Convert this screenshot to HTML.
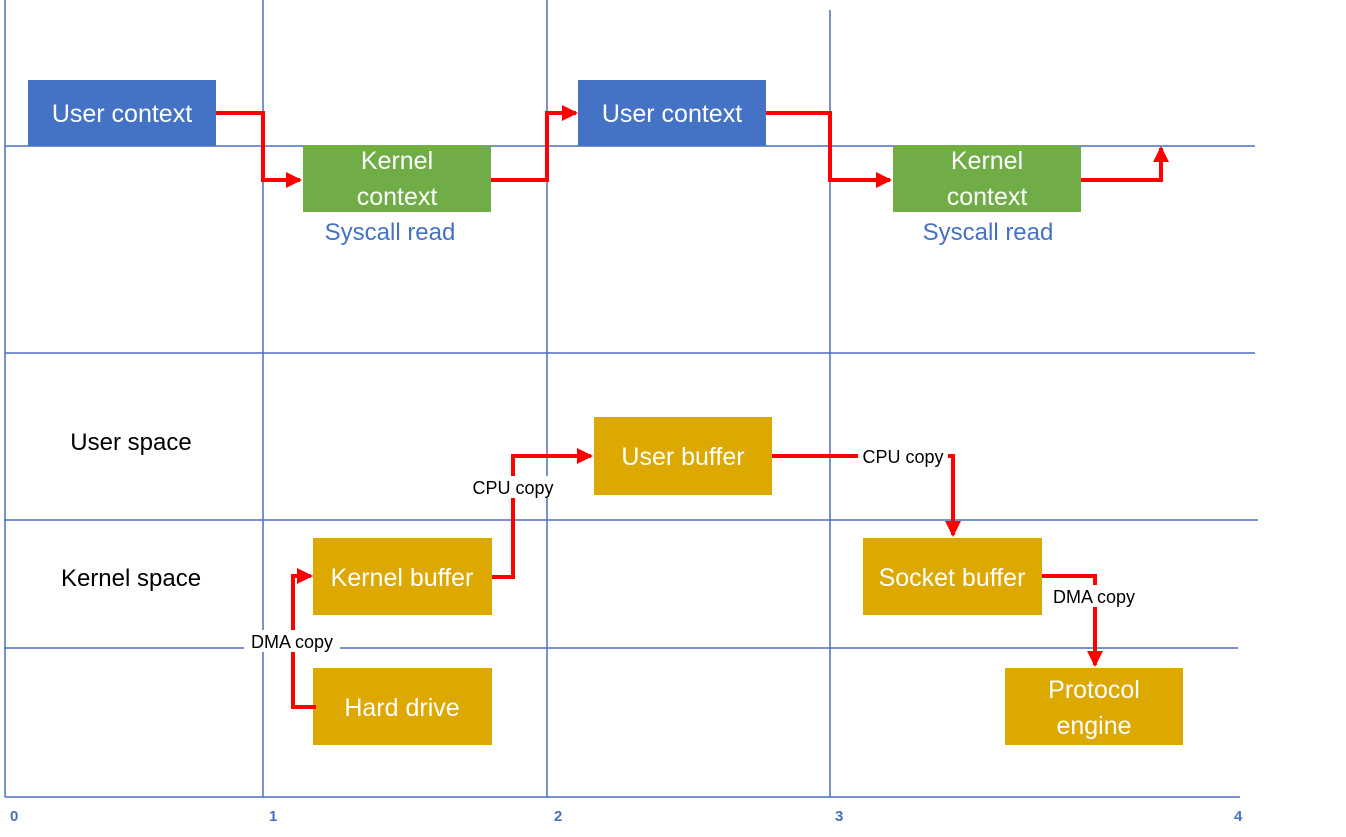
<!DOCTYPE html>
<html><head><meta charset="utf-8"><style>
html,body{margin:0;padding:0;background:#fff;width:1346px;height:837px;overflow:hidden}
svg{display:block}
text{font-family:"Liberation Sans",sans-serif}
</style></head><body>
<svg width="1346" height="837" viewBox="0 0 1346 837" xmlns="http://www.w3.org/2000/svg">
<defs>
<marker id="ah" markerWidth="4" markerHeight="4" refX="3.5" refY="2" orient="auto" markerUnits="strokeWidth">
<path d="M0,0 L4,2 L0,4 z" fill="#f00"/></marker>
</defs>
<g stroke="#4a6fbf" stroke-width="1.5" fill="none">
<line x1="5" y1="0" x2="5" y2="797"/>
<line x1="263" y1="0" x2="263" y2="797"/>
<line x1="547" y1="0" x2="547" y2="797"/>
<line x1="830" y1="10" x2="830" y2="797"/>
<line x1="5" y1="146" x2="1255" y2="146"/>
<line x1="5" y1="353" x2="1255" y2="353"/>
<line x1="5" y1="520" x2="1258" y2="520"/>
<line x1="5" y1="648" x2="1238" y2="648"/>
<line x1="5" y1="797" x2="1240" y2="797"/>
</g>
<g fill="#4a6fbf" font-size="15" font-weight="bold">
<text x="10" y="821">0</text><text x="269" y="821">1</text><text x="554" y="821">2</text><text x="835" y="821">3</text><text x="1234" y="821">4</text>
</g>
<g fill="#4472C4"><rect x="28" y="80" width="188" height="66"/><rect x="578" y="80" width="188" height="66"/></g>
<g fill="#70AD47"><rect x="303" y="146" width="188" height="66"/><rect x="893" y="146" width="188" height="66"/></g>
<g fill="#DDA800"><rect x="594" y="417" width="178" height="78"/><rect x="313" y="538" width="179" height="77"/><rect x="313" y="668" width="179" height="77"/><rect x="863" y="538" width="179" height="77"/><rect x="1005" y="668" width="178" height="77"/></g>
<g fill="#fff" font-size="25" text-anchor="middle">
<text x="122" y="122">User context</text>
<text x="672" y="122">User context</text>
<text x="397" y="169">Kernel</text><text x="397" y="205">context</text>
<text x="987" y="169">Kernel</text><text x="987" y="205">context</text>
<text x="683" y="465">User buffer</text>
<text x="402" y="586">Kernel buffer</text>
<text x="402" y="716">Hard drive</text>
<text x="952" y="586">Socket buffer</text>
<text x="1094" y="698">Protocol</text><text x="1094" y="734">engine</text>
</g>
<g fill="#4472C4" font-size="24" text-anchor="middle">
<text x="390" y="240">Syscall read</text><text x="988" y="240">Syscall read</text>
</g>
<g fill="#000" font-size="24" text-anchor="middle">
<text x="131" y="450">User space</text><text x="131" y="586">Kernel space</text>
</g>
<g stroke="#f00" stroke-width="4" fill="none" marker-end="url(#ah)">
<polyline points="216,113 263,113 263,180 300,180"/>
<polyline points="491,180 547,180 547,113 576,113"/>
<polyline points="766,113 830,113 830,180 890,180"/>
<polyline points="1081,180 1161,180 1161,148"/>
<polyline points="316,707 293,707 293,576 311,576"/>
<polyline points="492,577 513,577 513,456 591,456"/>
<polyline points="772,456 953,456 953,535"/>
<polyline points="1042,576 1095,576 1095,665"/>
</g>
<g font-size="18" fill="#000" text-anchor="middle">
<rect x="244" y="630" width="96" height="22" fill="#fff"/><text x="292" y="648">DMA copy</text>
<rect x="468" y="476" width="90" height="22" fill="#fff"/><text x="513" y="494">CPU copy</text>
<rect x="858" y="445" width="90" height="22" fill="#fff"/><text x="903" y="463">CPU copy</text>
<rect x="1046" y="585" width="96" height="22" fill="#fff"/><text x="1094" y="603">DMA copy</text>
</g>
</svg>
</body></html>
